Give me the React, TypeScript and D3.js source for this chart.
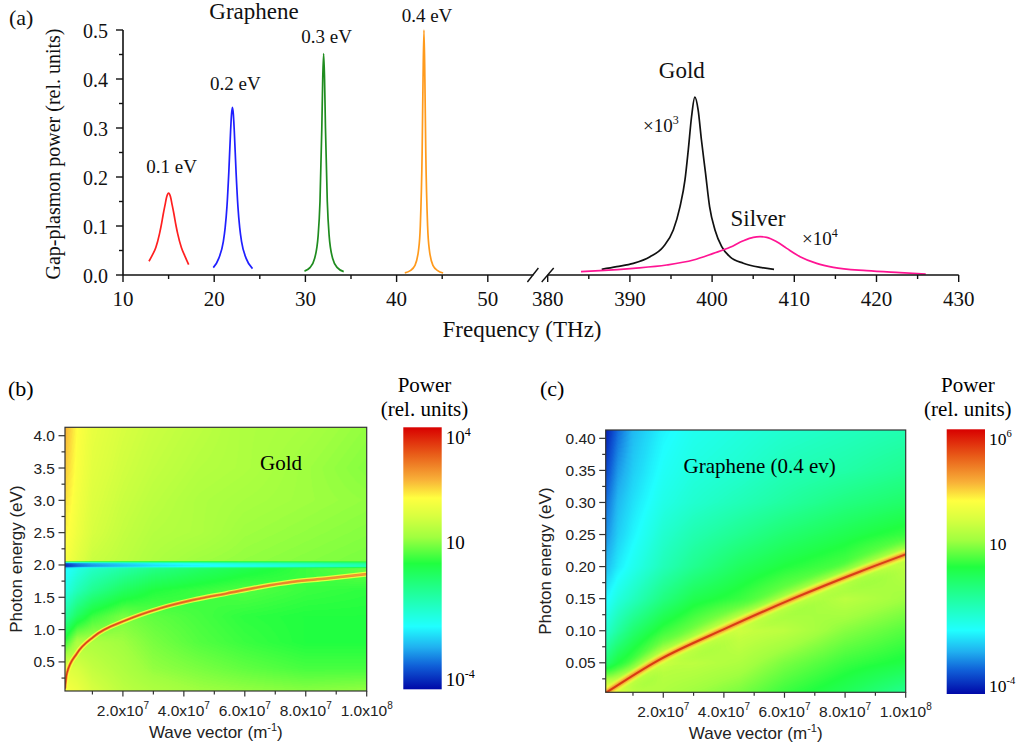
import React, { useMemo } from 'react'
import * as d3 from 'd3'

// ---------- panel (a): gap-plasmon power spectra ----------
const freqTicksLeft = [10, 20, 30, 40, 50]
const freqMinorLeft = [15, 25, 35, 45]
const freqTicksRight = [380, 390, 400, 410, 420, 430]
const freqMinorRight = [385, 395, 405, 415, 425]
const powerTicks = [0, 0.1, 0.2, 0.3, 0.4, 0.5]
const powerMinor = [0.05, 0.15, 0.25, 0.35, 0.45]

// [frequency THz, power]
const graphene01 = [
  [12.85, 0.028], [13.2, 0.04], [13.6, 0.056], [14.0, 0.084], [14.2, 0.102], [14.4, 0.123],
  [14.6, 0.142], [14.8, 0.16], [15.0, 0.167], [15.2, 0.16], [15.4, 0.142], [15.6, 0.123],
  [15.8, 0.102], [16.0, 0.084], [16.4, 0.056], [16.8, 0.038], [17.2, 0.021],
]
const graphene02 = [
  [19.9, 0.015], [20.5, 0.034], [21.0, 0.068], [21.2, 0.096], [21.4, 0.14], [21.6, 0.209],
  [21.8, 0.295], [21.9, 0.328], [22.0, 0.342], [22.1, 0.328], [22.2, 0.295], [22.4, 0.209],
  [22.6, 0.14], [22.8, 0.096], [23.0, 0.068], [23.5, 0.034], [24.2, 0.013],
]
const graphene03 = [
  [29.9, 0.008], [30.5, 0.015], [31.0, 0.033], [31.4, 0.081], [31.6, 0.15], [31.8, 0.3],
  [31.9, 0.4], [32.0, 0.452], [32.1, 0.4], [32.2, 0.3], [32.4, 0.15], [32.6, 0.081],
  [33.0, 0.033], [33.5, 0.015], [34.2, 0.007],
]
const graphene04 = [
  [40.9, 0.0045], [41.5, 0.009], [42.0, 0.019], [42.4, 0.05], [42.6, 0.1], [42.8, 0.25],
  [42.9, 0.4], [43.0, 0.5], [43.1, 0.4], [43.2, 0.25], [43.4, 0.1], [43.6, 0.05],
  [44.0, 0.019], [44.5, 0.009], [45.1, 0.004],
]
const goldSpectrum = [
  [386.57, 0.0116], [388.39, 0.017], [390.42, 0.0238], [392.45, 0.0374], [394.07, 0.0578],
  [395.28, 0.0918], [396.09, 0.139], [396.7, 0.194], [397.1, 0.255], [397.5, 0.323],
  [397.9, 0.363], [398.3, 0.337], [398.7, 0.276], [399.2, 0.208], [399.7, 0.139],
  [400.35, 0.092], [401.17, 0.058], [402.18, 0.037], [403.8, 0.024], [405.83, 0.0156],
  [407.53, 0.0116],
]
const silverSpectrum = [
  [384.05, 0.0068], [386.36, 0.0088], [390.42, 0.0136], [394.47, 0.0204], [397.72, 0.0306],
  [400.15, 0.0442], [402.18, 0.0565], [403.8, 0.07], [405.01, 0.0769], [405.83, 0.0782],
  [406.64, 0.0769], [407.86, 0.068], [409.08, 0.0544], [410.7, 0.0374], [412.72, 0.0238],
  [414.75, 0.0156], [418.8, 0.0088], [422.86, 0.0048], [425.99, 0.002],
]
const grapheneSeries = [graphene01, graphene02, graphene03, graphene04]
const grapheneLabels = ['0.1 eV', '0.2 eV', '0.3 eV', '0.4 eV']
const grapheneColors = ['#ff1f1f', '#1f1fff', '#1f8c1f', '#ff9a1c']
const grapheneLabelLift = [20, 17, 11, 8]

// ---------- panels (b), (c): power maps ----------
const waveTicks = [2e7, 4e7, 6e7, 8e7, 1e8]
const waveMinor = [1e7, 3e7, 5e7, 7e7, 9e7]
const energyTicksGold = [0.5, 1.0, 1.5, 2.0, 2.5, 3.0, 3.5, 4.0]
const energyMinorGold = [0.25, 0.75, 1.25, 1.75, 2.25, 2.75, 3.25, 3.75]
const energyTicksGraphene = [0.05, 0.1, 0.15, 0.2, 0.25, 0.3, 0.35, 0.4]
const energyMinorGraphene = [0.025, 0.075, 0.125, 0.175, 0.225, 0.275, 0.325, 0.375]

// colour-map position (0 = 1e-4 end, 1 = top end) sampled off the maps
const goldGridK = [1e6, 5e6, 1e7, 2e7, 3e7, 4.5e7, 6e7, 8e7, 1e8]
const goldGridE = [0.05, 0.4, 0.8, 1.2, 1.6, 1.95, 1.975, 2.025, 2.06, 2.5, 3.0, 3.5, 4.13]
const goldGrid = [
  [0.72, 0.7, 0.66, 0.62, 0.6, 0.58, 0.57, 0.56, 0.57],
  [0.68, 0.66, 0.63, 0.6, 0.57, 0.55, 0.53, 0.51, 0.51],
  [0.5, 0.6, 0.6, 0.58, 0.55, 0.52, 0.5, 0.48, 0.48],
  [0.36, 0.44, 0.5, 0.55, 0.53, 0.51, 0.49, 0.48, 0.48],
  [0.27, 0.33, 0.38, 0.44, 0.48, 0.5, 0.52, 0.5, 0.49],
  [0.23, 0.27, 0.31, 0.35, 0.39, 0.43, 0.46, 0.5, 0.54],
  [0.03, 0.09, 0.13, 0.17, 0.2, 0.22, 0.25, 0.28, 0.32],
  [0.06, 0.12, 0.16, 0.2, 0.23, 0.26, 0.3, 0.34, 0.38],
  [0.72, 0.68, 0.64, 0.62, 0.6, 0.58, 0.57, 0.56, 0.55],
  [0.74, 0.7, 0.66, 0.63, 0.61, 0.6, 0.58, 0.57, 0.56],
  [0.76, 0.71, 0.67, 0.64, 0.62, 0.6, 0.59, 0.58, 0.57],
  [0.78, 0.72, 0.68, 0.65, 0.63, 0.61, 0.6, 0.58, 0.56],
  [0.8, 0.73, 0.69, 0.66, 0.64, 0.62, 0.6, 0.59, 0.57],
]
const goldRidge = [
  [1e6, 0.1], [1.6e6, 0.32], [4.9e6, 0.63], [1.04e7, 0.89], [2.13e7, 1.15], [3.22e7, 1.33],
  [4.31e7, 1.46], [5.41e7, 1.56], [6.5e7, 1.66], [7.59e7, 1.74], [8.69e7, 1.79], [1e8, 1.86],
]

const grapheneGridK = [1e6, 5e6, 1e7, 2e7, 3e7, 4.5e7, 6e7, 8e7, 1e8]
const grapheneGridE = [0.004, 0.05, 0.1, 0.15, 0.2, 0.25, 0.3, 0.35, 0.413]
const grapheneGrid = [
  [0.72, 0.66, 0.62, 0.6, 0.58, 0.55, 0.5, 0.45, 0.38],
  [0.42, 0.48, 0.52, 0.62, 0.62, 0.6, 0.55, 0.5, 0.47],
  [0.3, 0.36, 0.42, 0.5, 0.55, 0.64, 0.62, 0.56, 0.52],
  [0.23, 0.28, 0.32, 0.4, 0.46, 0.5, 0.56, 0.62, 0.58],
  [0.17, 0.22, 0.26, 0.33, 0.38, 0.44, 0.48, 0.52, 0.62],
  [0.13, 0.19, 0.23, 0.3, 0.34, 0.38, 0.42, 0.46, 0.5],
  [0.1, 0.17, 0.21, 0.27, 0.3, 0.33, 0.36, 0.4, 0.43],
  [0.06, 0.14, 0.19, 0.25, 0.28, 0.3, 0.33, 0.35, 0.38],
  [0.02, 0.1, 0.17, 0.23, 0.26, 0.28, 0.3, 0.32, 0.34],
]
const grapheneRidge = [
  [1e6, 0.003], [1.88e7, 0.055], [4.08e7, 0.104], [6.28e7, 0.15], [8.48e7, 0.192], [1e8, 0.219],
]

const cmapStops = [0, 0.09, 0.16, 0.24, 0.37, 0.48, 0.58, 0.66, 0.73, 0.8, 0.9, 1]
const cmapColors = ['#0008a8', '#1060d8', '#20b0f0', '#20ffff', '#20ff98', '#20ff40',
  '#a0ff40', '#d8ff40', '#ffff40', '#f8b038', '#e85a18', '#d80000']

const goldBarTicks = [{ exp: '4', t: 0.963 }, { exp: '', t: 0.563 }, { exp: '-4', t: 0.041 }]
const grapheneBarTicks = [{ exp: '6', t: 0.969 }, { exp: '', t: 0.569 }, { exp: '-4', t: 0.034 }]

const serif = '"Liberation Serif", "Times New Roman", serif'
const sans = '"Liberation Sans", Arial, sans-serif'

const cmap = d3.scaleLinear<string>().domain(cmapStops).range(cmapColors).clamp(true)
const lut = d3.range(256).map(i => d3.rgb(cmap(i / 255)))

function sampleGrid(xs: number[], ys: number[], grid: number[][], x: number, y: number) {
  const i = Math.max(0, Math.min(xs.length - 2, d3.bisectRight(xs, x) - 1))
  const j = Math.max(0, Math.min(ys.length - 2, d3.bisectRight(ys, y) - 1))
  const tx = Math.max(0, Math.min(1, (x - xs[i]) / (xs[i + 1] - xs[i])))
  const ty = Math.max(0, Math.min(1, (y - ys[j]) / (ys[j + 1] - ys[j])))
  const a = grid[j][i] * (1 - tx) + grid[j][i + 1] * tx
  const b = grid[j + 1][i] * (1 - tx) + grid[j + 1][i + 1] * tx
  return a * (1 - ty) + b * ty
}

function fieldImage(xs: number[], ys: number[], grid: number[][], sx: any, sy: any) {
  const [x0, x1] = sx.range()
  const [y1, y0] = sy.range()
  const w = Math.round(x1 - x0)
  const h = Math.round(y1 - y0)
  const canvas = document.createElement('canvas')
  canvas.width = w
  canvas.height = h
  const ctx = canvas.getContext('2d')!
  const img = ctx.createImageData(w, h)
  for (let j = 0; j < h; j++) {
    const e = sy.invert(y0 + j + 0.5)
    for (let i = 0; i < w; i++) {
      const k = sx.invert(x0 + i + 0.5)
      const t = sampleGrid(xs, ys, grid, k, e)
      const c = lut[Math.max(0, Math.min(255, Math.round(t * 255)))]
      const p = (j * w + i) * 4
      img.data[p] = c.r
      img.data[p + 1] = c.g
      img.data[p + 2] = c.b
      img.data[p + 3] = 255
    }
  }
  ctx.putImageData(img, 0, 0)
  return canvas.toDataURL()
}

const sciLabel = (v: number) => {
  const exp = Math.floor(Math.log10(v) + 1e-9)
  return { mant: (v / Math.pow(10, exp)).toFixed(1), exp: String(exp) }
}

function MapPanel({ id, sx, sy, xs, ys, grid, ridge, eTicks, eMinor, eFormat, yLabelX, title, titleX, tag, tagX, bar, barTicks, heavy }: any) {
  const url = useMemo(() => fieldImage(xs, ys, grid, sx, sy), [])
  const [x0, x1] = sx.range()
  const [y1, y0] = sy.range()
  const ridgeLine = d3.line<number[]>().x(d => sx(d[0])).y(d => sy(d[1])).curve(d3.curveMonotoneX)
  const rd = ridgeLine(ridge) || ''
  return (
    <g>
      <defs>
        <clipPath id={`clip-${id}`}><rect x={x0} y={y0} width={x1 - x0} height={y1 - y0} /></clipPath>
        <filter id={`blurA-${id}`} x="-20%" y="-50%" width="140%" height="200%"><feGaussianBlur stdDeviation={heavy ? 3 : 1.6} /></filter>
        <filter id={`blurB-${id}`} x="-20%" y="-50%" width="140%" height="200%"><feGaussianBlur stdDeviation={heavy ? 1.2 : 0.7} /></filter>
        <linearGradient id={`core-${id}`} gradientUnits="userSpaceOnUse" x1={x0} y1={0} x2={x1} y2={0}>
          <stop offset="0" stopColor="#d83a10" />
          <stop offset="1" stopColor={heavy ? '#d84018' : '#f0a030'} />
        </linearGradient>
        <linearGradient id={`bar-${id}`} x1="0" y1="1" x2="0" y2="0">
          {cmapStops.map((s, i) => <stop key={i} offset={s} stopColor={cmapColors[i]} />)}
        </linearGradient>
      </defs>
      <image href={url} x={x0} y={y0} width={x1 - x0} height={y1 - y0} preserveAspectRatio="none" />
      <g clipPath={`url(#clip-${id})`} fill="none" strokeLinecap="round">
        {heavy && <path d={rd} stroke="#d8ff40" strokeWidth={18} opacity={0.55} filter={`url(#blurA-${id})`} />}
        <path d={rd} stroke="#ffff40" strokeWidth={heavy ? 9 : 5} opacity={0.85} filter={`url(#blurB-${id})`} />
        <path d={rd} stroke="#f08a30" strokeWidth={heavy ? 4.5 : 2.6} filter={`url(#blurB-${id})`} />
        <path d={rd} stroke={`url(#core-${id})`} strokeWidth={heavy ? 2 : 1.3} />
      </g>
      <rect x={x0} y={y0} width={x1 - x0} height={y1 - y0} fill="none" stroke="#333" strokeWidth={1.2} />
      {/* x axis */}
      {waveTicks.map(v => {
        const l = sciLabel(v)
        return (
          <g key={v}>
            <line x1={sx(v)} x2={sx(v)} y1={y1} y2={y1 + 5.5} stroke="#333" strokeWidth={1.2} />
            <text x={sx(v)} y={y1 + 25} textAnchor="middle" fontFamily={sans} fontSize={15.5} fill="#222">
              {l.mant}x10<tspan dy={-7} fontSize={10}>{l.exp}</tspan>
            </text>
          </g>
        )
      })}
      {waveMinor.map(v => <line key={v} x1={sx(v)} x2={sx(v)} y1={y1} y2={y1 + 3.5} stroke="#333" strokeWidth={1.2} />)}
      <text x={(x0 + x1) / 2} y={y1 + 46.5} textAnchor="middle" fontFamily={sans} fontSize={17} fill="#222">
        Wave vector (m<tspan dy={-7} fontSize={11}>-1</tspan><tspan dy={7}>)</tspan>
      </text>
      {/* y axis */}
      {eTicks.map((v: number) => (
        <g key={v}>
          <line x1={x0 - 6.5} x2={x0} y1={sy(v)} y2={sy(v)} stroke="#333" strokeWidth={1.2} />
          <text x={x0 - 10} y={sy(v) + 5.5} textAnchor="end" fontFamily={sans} fontSize={15.5} fill="#222">{d3.format(eFormat)(v)}</text>
        </g>
      ))}
      {eMinor.map((v: number) => <line key={v} x1={x0 - 3.5} x2={x0} y1={sy(v)} y2={sy(v)} stroke="#333" strokeWidth={1.2} />)}
      <text transform={`translate(${yLabelX},${(y0 + y1) / 2}) rotate(-90)`} textAnchor="middle" fontFamily={sans} fontSize={17} fill="#222">Photon energy (eV)</text>
      <text x={titleX} y={y0 + 43} textAnchor="middle" fontFamily={serif} fontSize={21}>{title}</text>
      <text x={tagX} y={396} fontFamily={serif} fontSize={22}>{tag}</text>
      {/* colour bar */}
      <rect x={bar.x} y={bar.y0} width={bar.w} height={bar.y1 - bar.y0} fill={`url(#bar-${id})`} />
      {barTicks.map((b: any, i: number) => {
        const by = bar.y1 - b.t * (bar.y1 - bar.y0)
        return (
          <text key={i} x={bar.x + bar.w + 4} y={by + 7} fontFamily={serif} fontSize={bar.fs}>
            10{b.exp && <tspan dy={-8} fontSize={bar.fs - 7}>{b.exp}</tspan>}
          </text>
        )
      })}
      <text x={bar.x + bar.w / 2 + 2} y={392} textAnchor="middle" fontFamily={serif} fontSize={21}>Power</text>
      <text x={bar.x + bar.w / 2 + 2} y={415.5} textAnchor="middle" fontFamily={serif} fontSize={21}>(rel. units)</text>
    </g>
  )
}

export default function App() {
  // panel (a) scales: broken frequency axis
  const yA = d3.scaleLinear().domain([0, 0.5]).range([275, 30])
  const xAL = d3.scaleLinear().domain([10, 55]).range([123, 533.4])
  const xAR = d3.scaleLinear().domain([380, 430]).range([547.7, 958.7])
  const xA = (f: number) => (f < 100 ? xAL(f) : xAR(f))
  const lineA = d3.line<number[]>().x(d => xA(d[0])).y(d => yA(d[1])).curve(d3.curveMonotoneX)

  // panel (b) / (c) scales
  const sxB = d3.scaleLinear().domain([1e6, 1e8]).range([65, 366.7])
  const syB = d3.scaleLinear().domain([0.05, 4.13]).range([691, 427.3])
  const sxC = d3.scaleLinear().domain([1e6, 1e8]).range([605.7, 905.7])
  const syC = d3.scaleLinear().domain([0.004, 0.413]).range([692.3, 430])

  const goldPeak = goldSpectrum.reduce((a, b) => (b[1] > a[1] ? b : a))
  const silverPeak = silverSpectrum.reduce((a, b) => (b[1] > a[1] ? b : a))

  return (
    <svg width={1016} height={748} style={{ position: 'absolute', left: 0, top: 0, background: '#fff' }}>
      <rect width={1016} height={748} fill="#fff" />
      {/* ---------- (a) ---------- */}
      <g fontFamily={serif} fill="#111">
        <text x={9} y={25} fontSize={22}>(a)</text>
        <text x={254} y={19} textAnchor="middle" fontSize={23}>Graphene</text>
        {grapheneSeries.map((s, i) => {
          const pk = s.reduce((a, b) => (b[1] > a[1] ? b : a))
          return (
            <g key={i}>
              <path d={lineA(s) || ''} fill="none" stroke={grapheneColors[i]} strokeWidth={1.7} />
              <text x={xA(pk[0]) + 3} y={yA(pk[1]) - grapheneLabelLift[i]} textAnchor="middle" fontSize={19}>{grapheneLabels[i]}</text>
            </g>
          )
        })}
        <path d={lineA(goldSpectrum) || ''} fill="none" stroke="#111" strokeWidth={1.7} />
        <path d={lineA(silverSpectrum) || ''} fill="none" stroke="#ff1493" strokeWidth={1.7} />
        <text x={xA(goldPeak[0]) - 13} y={yA(goldPeak[1]) - 19} textAnchor="middle" fontSize={23}>Gold</text>
        <text x={643} y={131.5} fontSize={19}>×10<tspan dy={-8} fontSize={12}>3</tspan></text>
        <text x={xA(silverPeak[0]) - 2} y={yA(silverPeak[1]) - 11} textAnchor="middle" fontSize={23}>Silver</text>
        <text x={802} y={245} fontSize={19}>×10<tspan dy={-8} fontSize={12}>4</tspan></text>

        {/* axes */}
        <line x1={123} x2={123} y1={30} y2={275} stroke="#111" strokeWidth={1.6} />
        <line x1={123} x2={xAL(55)} y1={275} y2={275} stroke="#111" strokeWidth={1.6} />
        <line x1={xAR(380)} x2={xAR(430)} y1={275} y2={275} stroke="#111" strokeWidth={1.6} />
        <line x1={xAL(55) - 6} x2={xAL(55) + 5} y1={282} y2={268} stroke="#111" strokeWidth={1.4} />
        <line x1={xAR(380) - 6} x2={xAR(380) + 6} y1={282} y2={268} stroke="#111" strokeWidth={1.4} />
        {powerTicks.map(v => (
          <g key={v}>
            <line x1={116} x2={123} y1={yA(v)} y2={yA(v)} stroke="#111" strokeWidth={1.4} />
            <text x={108} y={yA(v) + 8} textAnchor="end" fontSize={20}>{v.toFixed(1)}</text>
          </g>
        ))}
        {powerMinor.map(v => <line key={v} x1={119} x2={123} y1={yA(v)} y2={yA(v)} stroke="#111" strokeWidth={1.4} />)}
        {[...freqTicksLeft.map(v => xAL(v)), ...freqTicksRight.map(v => xAR(v))].map((x, i) => (
          <line key={i} x1={x} x2={x} y1={275} y2={282} stroke="#111" strokeWidth={1.4} />
        ))}
        {[...freqMinorLeft.map(v => xAL(v)), ...freqMinorRight.map(v => xAR(v))].map((x, i) => (
          <line key={i} x1={x} x2={x} y1={275} y2={279} stroke="#111" strokeWidth={1.4} />
        ))}
        {freqTicksLeft.map(v => <text key={v} x={xAL(v)} y={306} textAnchor="middle" fontSize={21}>{v}</text>)}
        {freqTicksRight.map(v => <text key={v} x={xAR(v)} y={306} textAnchor="middle" fontSize={21}>{v}</text>)}
        <text x={522} y={337} textAnchor="middle" fontSize={23}>Frequency (THz)</text>
        <text transform="translate(60,154) rotate(-90)" textAnchor="middle" fontSize={20}>Gap-plasmon power (rel. units)</text>
      </g>

      {/* ---------- (b) ---------- */}
      <MapPanel id="gold" sx={sxB} sy={syB} xs={goldGridK} ys={goldGridE} grid={goldGrid} ridge={goldRidge}
        eTicks={energyTicksGold} eMinor={energyMinorGold} eFormat=".1f" yLabelX={22}
        title="Gold" titleX={281} tag="(b)" tagX={8}
        bar={{ x: 403.3, w: 38.4, y0: 427.3, y1: 689.3, fs: 19 }} barTicks={goldBarTicks} heavy={false} />

      {/* ---------- (c) ---------- */}
      <MapPanel id="graphene" sx={sxC} sy={syC} xs={grapheneGridK} ys={grapheneGridE} grid={grapheneGrid} ridge={grapheneRidge}
        eTicks={energyTicksGraphene} eMinor={energyMinorGraphene} eFormat=".2f" yLabelX={551}
        title="Graphene (0.4 ev)" titleX={759.7} tag="(c)" tagX={540}
        bar={{ x: 946.7, w: 38.3, y0: 429.3, y1: 694, fs: 17.5 }} barTicks={grapheneBarTicks} heavy={true} />
    </svg>
  )
}
